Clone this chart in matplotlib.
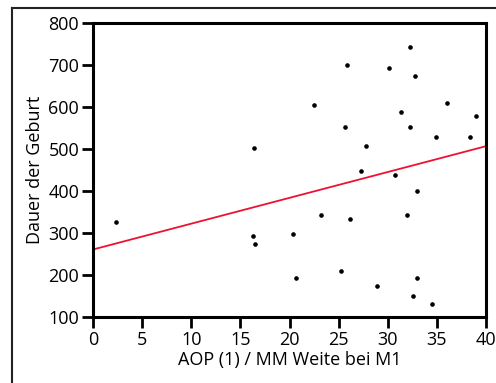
import matplotlib.pyplot as plt
from matplotlib.lines import Line2D
import numpy as np

plt.rcParams['font.family'] = ['Open Sans', 'DejaVu Sans']

# AOP (1) / MM Weite bei M1 vs. Dauer der Geburt
aop = [32.3, 25.9, 30.1, 32.8, 22.5, 36.0, 31.3, 39.0, 25.6, 32.3,
       34.9, 38.4, 16.4, 27.8, 27.3, 30.7, 33.0, 2.3, 23.2, 26.2,
       32.0, 16.25, 16.5, 20.4, 20.7, 25.2, 28.9, 33.0, 32.6, 34.5]
dauer = [743, 700, 693, 673, 603, 610, 587, 578, 552, 552,
         528, 528, 502, 507, 448, 437, 399, 326, 343, 332,
         342, 293, 272, 297, 192, 209, 172, 191, 149, 130]

# fitted line as shown
fit_intercept = 260
fit_slope = 6.15

fig = plt.figure(figsize=(4.96, 3.83), dpi=100)
ax = fig.add_axes([93 / 496, 1 - 316.7 / 383, (486 - 93) / 496, (316.7 - 22.7) / 383])

ax.plot(aop, dauer, 'o', color='black', markersize=2.3, clip_on=False)
xs = np.array([0, 40])
ax.plot(xs, fit_intercept + fit_slope * xs, color='#ee1133', linewidth=1.3)

ax.set_xlim(0, 40)
ax.set_ylim(100, 800)
ax.set_xticks(range(0, 41, 5))
ax.set_yticks(range(100, 801, 100))
ax.tick_params(direction='out', length=8, width=2, labelsize=13, pad=2, color='black')
for s in ax.spines.values():
    s.set_linewidth(2.2)

ax.set_xlabel('AOP (1) / MM Weite bei M1', fontsize=13, labelpad=2)
ax.set_ylabel('Dauer der Geburt', fontsize=13, labelpad=3)

# outer frame
fig.add_artist(Line2D([11.5 / 496, 11.5 / 496], [0, 1 - 7.5 / 383], color='#222222', linewidth=1.5))
fig.add_artist(Line2D([11.5 / 496, 1], [1 - 7.5 / 383, 1 - 7.5 / 383], color='#222222', linewidth=1.5))

fig.savefig('out.png', dpi=100)
